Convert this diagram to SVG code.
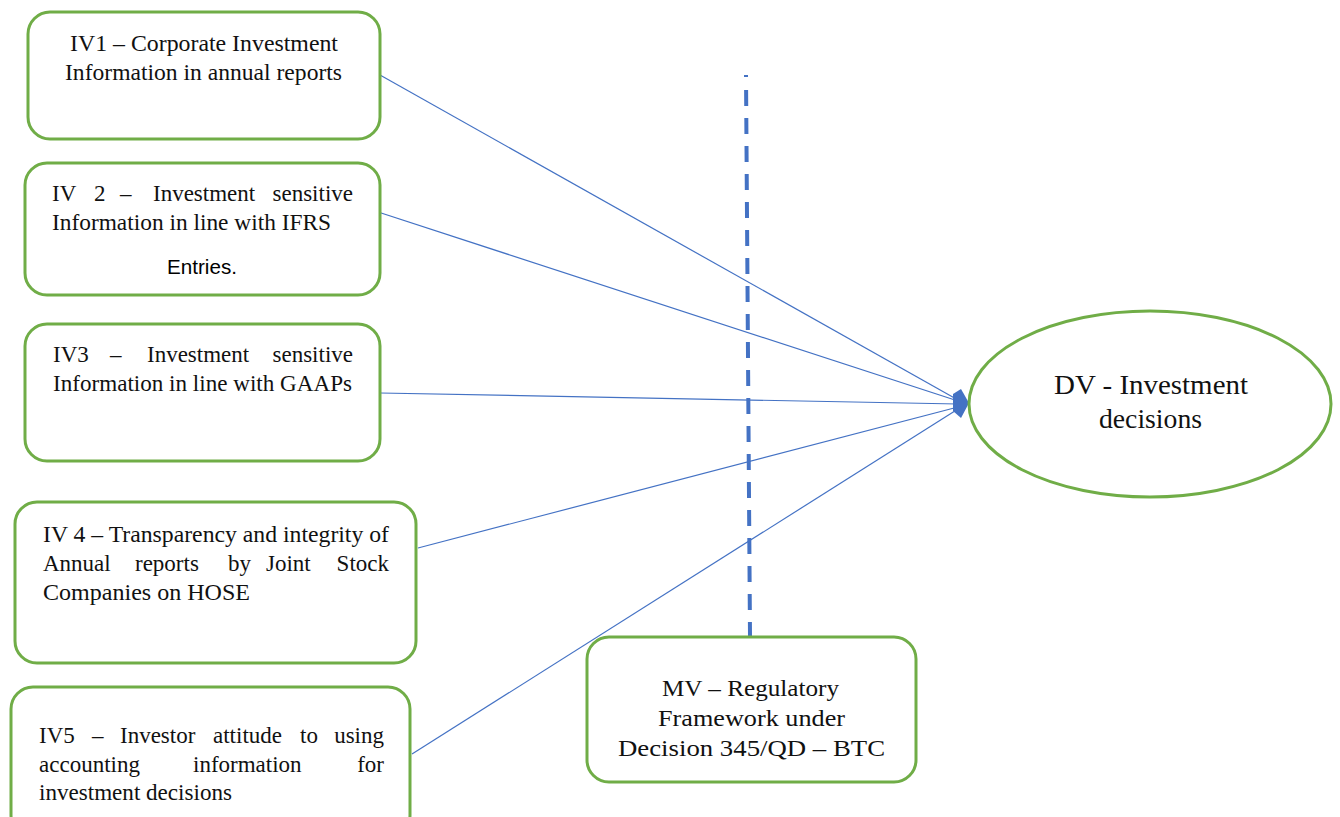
<svg xmlns="http://www.w3.org/2000/svg" width="1340" height="817" viewBox="0 0 1340 817">
<style>
.box{fill:#fff;stroke:#70AD47;stroke-width:3}
.t{font-family:"Liberation Serif",serif;font-size:23px;fill:#111}
.c{text-anchor:middle}
.e{text-anchor:end}
.conn{stroke:#4472C4;stroke-width:1.2;fill:none}
</style>
<rect width="1340" height="817" fill="#fff"/>
<g id="connectors">
<line class="conn" x1="380" y1="75" x2="958" y2="400"/>
<line class="conn" x1="375" y1="211" x2="958" y2="401"/>
<line class="conn" x1="380" y1="393" x2="958" y2="404"/>
<line class="conn" x1="418" y1="548" x2="958" y2="407"/>
<line class="conn" x1="412" y1="754" x2="958" y2="409"/>
<polygon points="953,394 961,389 969,403 961,418 953,411" fill="#4472C4"/>
<line x1="746" y1="75" x2="750" y2="636" stroke="#4472C4" stroke-width="4" stroke-dasharray="2,13,16,12,16,12,16,12,16,12,16,12,16,12,16,12,16,12,16,12,16,12,16,12,16,12,16,12,16,12,16,12,16,12,16,12,16,12,16,12,16,12,16,12,16,12,16,12,16,12,16,12,16,12,16,12,16,12,16,12"/>
</g>
<g id="iv1">
<rect class="box" x="28" y="12" width="352" height="127" rx="22"/>
<text class="t" x="70" y="51" textLength="268" lengthAdjust="spacingAndGlyphs">IV1 – Corporate Investment</text>
<text class="t" x="65" y="80" textLength="277" lengthAdjust="spacingAndGlyphs">Information in annual reports</text>
</g>
<g id="iv2">
<rect class="box" x="25" y="163" width="355" height="132" rx="22"/>
<text class="t" x="52" y="201">IV</text>
<text class="t" x="94" y="201">2</text>
<text class="t" x="120" y="201">–</text>
<text class="t" x="153" y="201">Investment</text>
<text class="t e" x="353" y="201">sensitive</text>
<text class="t" x="52" y="230" textLength="279" lengthAdjust="spacingAndGlyphs">Information in line with IFRS</text>
<text x="167" y="274" textLength="70" lengthAdjust="spacingAndGlyphs" style="font-family:'Liberation Sans',sans-serif;font-size:20px;fill:#000">Entries.</text>
</g>
<g id="iv3">
<rect class="box" x="25" y="324" width="355" height="137" rx="22"/>
<text class="t" x="53" y="362">IV3</text>
<text class="t" x="110" y="362">–</text>
<text class="t" x="147" y="362">Investment</text>
<text class="t e" x="353" y="362">sensitive</text>
<text class="t" x="53" y="391" textLength="299" lengthAdjust="spacingAndGlyphs">Information in line with GAAPs</text>
</g>
<g id="iv4">
<rect class="box" x="15" y="502" width="401" height="161" rx="22"/>
<text class="t" x="43" y="542" textLength="346" lengthAdjust="spacingAndGlyphs">IV 4 – Transparency and integrity of</text>
<text class="t" x="43" y="571">Annual</text>
<text class="t" x="135" y="571">reports</text>
<text class="t" x="228" y="571">by</text>
<text class="t" x="266" y="571">Joint</text>
<text class="t e" x="389" y="571">Stock</text>
<text class="t" x="43" y="600" textLength="207" lengthAdjust="spacingAndGlyphs">Companies on HOSE</text>
</g>
<g id="iv5">
<rect class="box" x="11" y="687" width="399" height="150" rx="22"/>
<text class="t" x="39" y="743">IV5</text>
<text class="t" x="92" y="743">–</text>
<text class="t" x="120" y="743">Investor</text>
<text class="t" x="213" y="743">attitude</text>
<text class="t" x="300" y="743">to</text>
<text class="t e" x="384" y="743">using</text>
<text class="t" x="39" y="772">accounting</text>
<text class="t" x="193" y="772">information</text>
<text class="t e" x="384" y="772">for</text>
<text class="t" x="39" y="800" textLength="193" lengthAdjust="spacingAndGlyphs">investment decisions</text>
</g>
<g id="mv">
<rect class="box" x="587" y="637" width="329" height="145" rx="22"/>
<text class="t" x="662" y="696" textLength="177" lengthAdjust="spacingAndGlyphs">MV – Regulatory</text>
<text class="t" x="658" y="726" textLength="187" lengthAdjust="spacingAndGlyphs">Framework under</text>
<text class="t" x="618" y="756" textLength="267" lengthAdjust="spacingAndGlyphs">Decision 345/QD – BTC</text>
</g>
<g id="dv">
<ellipse class="box" cx="1150" cy="404" rx="181" ry="93"/>
<text class="t" x="1054" y="394" textLength="194" lengthAdjust="spacingAndGlyphs" style="font-size:27px">DV - Investment</text>
<text class="t" x="1099" y="428" textLength="103" lengthAdjust="spacingAndGlyphs" style="font-size:27px">decisions</text>
</g>
</svg>
